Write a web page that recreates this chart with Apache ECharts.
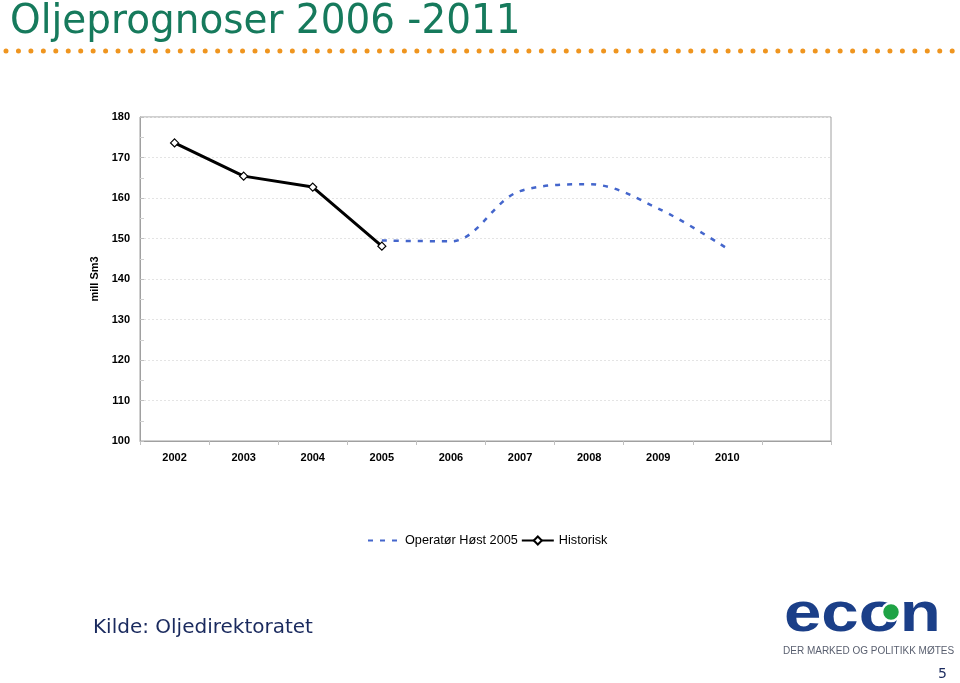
<!DOCTYPE html>
<html><head><meta charset="utf-8">
<script src="https://cdn.jsdelivr.net/npm/echarts@6/dist/echarts.min.js"></script>
<style>html,body{margin:0;padding:0;background:#fff}#c{width:960px;height:683px}</style>
</head><body><div id="c"></div>
<script>
const categories = ['2002','2003','2004','2005','2006','2007','2008','2009','2010',''];
const operator = [null, null, null, 149.5, 149.3, 161.7, 163.4, 157.4, 147.5, null];
const historisk = [173.6, 165.4, 162.7, 148.1, null, null, null, null, null, null];
const yTicks = {min: 100, max: 180, interval: 10};

const chart = echarts.init(document.getElementById('c'));
chart.setOption({
  animation: false,
  backgroundColor: '#fff',
  grid: {left: 140, right: 129, top: 117, bottom: 242, show: true, borderColor: '#a0a0a0', borderWidth: 1},
  legend: {
    top: 529, left: 362,
    itemGap: 3, itemWidth: 32, itemHeight: 10,
    textStyle: {fontFamily: 'Liberation Sans, Arial', fontSize: 12.7, color: '#000'},
    data: [
      {name: 'Operatør Høst 2005', itemStyle: {opacity: 0}},
      {name: 'Historisk'}
    ]
  },
  xAxis: {
    type: 'category', data: categories, boundaryGap: true,
    axisLine: {lineStyle: {color: '#a0a0a0'}},
    axisTick: {show: true, length: 4, lineStyle: {color: '#c0c0c0'}},
    axisLabel: {color: '#000', fontFamily: 'Liberation Sans, Arial', fontSize: 11, fontWeight: 'bold', margin: 11}
  },
  yAxis: {
    type: 'value', min: yTicks.min, max: yTicks.max, interval: yTicks.interval,
    name: 'mill Sm3', nameLocation: 'middle', nameGap: 36,
    nameTextStyle: {fontFamily: 'Liberation Sans, Arial', fontSize: 11, fontWeight: 'bold', color: '#000'},
    axisLine: {show: true, lineStyle: {color: '#a0a0a0'}},
    axisTick: {show: true, inside: true, length: 4, lineStyle: {color: '#c0c0c0'}},
    minorTick: {show: true, splitNumber: 2, length: 4, lineStyle: {color: '#d0d0d0'}},
    splitLine: {show: true, lineStyle: {color: '#e4e4e4', type: [2, 2]}},
    axisLabel: {color: '#000', fontFamily: 'Liberation Sans, Arial', fontSize: 11, fontWeight: 'bold', margin: 10}
  },
  series: [
    {
      name: 'Operatør Høst 2005', type: 'line', data: operator, smooth: 0.35,
      symbol: 'none', z: 2,
      lineStyle: {color: '#4466cc', width: 2.5, type: [5, 7]},
      itemStyle: {color: '#4466cc'}
    },
    {
      name: 'Historisk', type: 'line', data: historisk,
      symbol: 'diamond', symbolSize: 8, showAllSymbol: true, z: 3,
      lineStyle: {color: '#000', width: 3},
      itemStyle: {color: '#fff', borderColor: '#000', borderWidth: 1.2}
    }
  ],
  graphic: [
    {type: 'text', x: 10, y: 2, scaleX: 0.95, style: {text: 'Oljeprognoser 2006 -2011', fill: '#167a5c', font: '41px "DejaVu Sans", Verdana, sans-serif'}},
    {type: 'line', shape: {x1: 6, y1: 51, x2: 958, y2: 51}, style: {stroke: '#ef951f', lineWidth: 5, lineDash: [0, 12.45], lineCap: 'round'}},
    {type: 'text', left: 93, top: 618, style: {text: 'Kilde: Oljedirektoratet', fill: '#1a2a5e', font: '20px "DejaVu Sans", Verdana, sans-serif'}},
    {type: 'text', x: 784, y: 588, scaleX: 1.2, style: {text: 'econ', fill: '#1b3f88', font: 'bold 56px "Liberation Sans", Arial, sans-serif'}},
    {type: 'circle', shape: {cx: 891, cy: 612, r: 9}, style: {fill: '#1fa345', stroke: '#fff', lineWidth: 2.5}},
    {type: 'text', left: 783, top: 646, style: {text: 'DER MARKED OG POLITIKK MØTES', fill: '#5a6070', font: '10px "Liberation Sans Narrow", "Liberation Sans", Arial, sans-serif'}},
    {type: 'text', left: 938, top: 667, style: {text: '5', fill: '#1a2a5e', font: '14px "DejaVu Sans", Verdana, sans-serif'}}
  ]
});
</script></body></html>
